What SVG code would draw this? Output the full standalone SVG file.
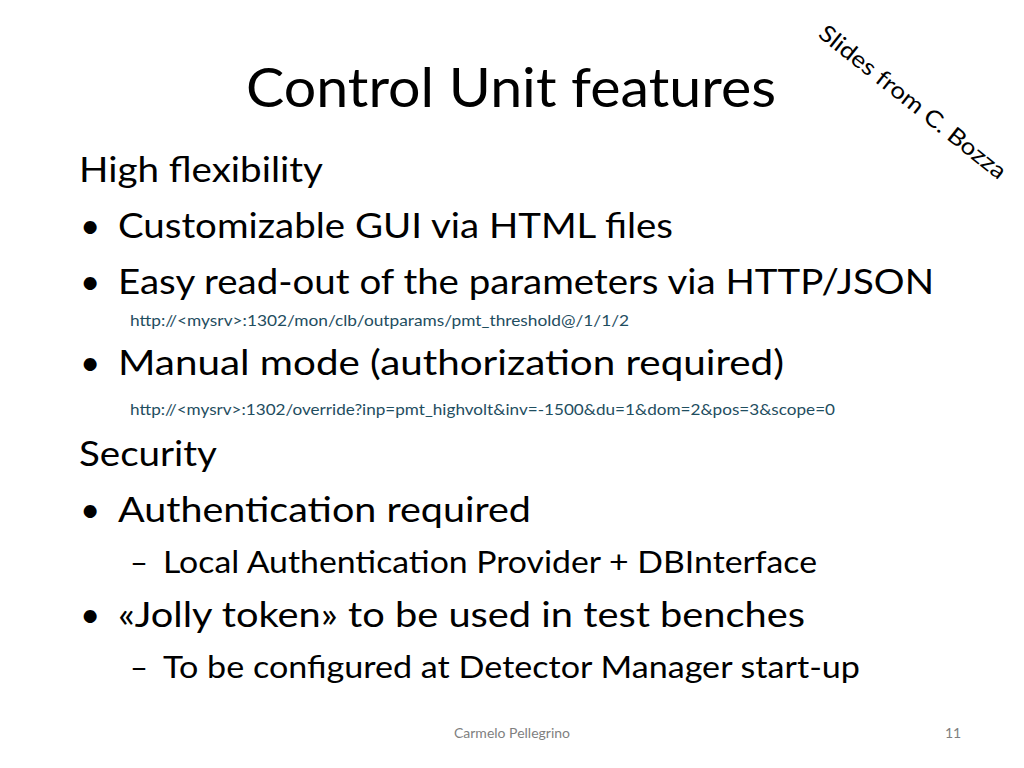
<svg xmlns="http://www.w3.org/2000/svg" width="1024" height="768" viewBox="0 0 1024 768">
<style>
text{font-family:Lato,"Liberation Sans",sans-serif;fill:#000}
.b{font-size:35px}
.s{font-size:31px}
.u{font-size:15px;fill:#1f4e5f}
.f{font-size:14px;fill:#7f7f7f}
</style>
<rect width="1024" height="768" fill="#fff"/>
<g id="title"><text x="246" y="107" font-size="54" textLength="530" lengthAdjust="spacingAndGlyphs">Control Unit features</text></g>
<g id="stamp"><text transform="translate(817,36) rotate(38.5)" font-size="23" textLength="232" lengthAdjust="spacingAndGlyphs">Slides from C. Bozza</text></g>
<g id="body">
<text class="b" x="79" y="182" textLength="244" lengthAdjust="spacingAndGlyphs">High flexibility</text>
<text class="b" x="80" y="238">•</text>
<text class="b" x="118" y="238" textLength="555" lengthAdjust="spacingAndGlyphs">Customizable GUI via HTML files</text>
<text class="b" x="80" y="294">•</text>
<text class="b" x="118" y="294" textLength="816" lengthAdjust="spacingAndGlyphs">Easy read-out of the parameters via HTTP/JSON</text>
<text class="u" x="130" y="326" textLength="499" lengthAdjust="spacingAndGlyphs">http://&lt;mysrv&gt;:1302/mon/clb/outparams/pmt_threshold@/1/1/2</text>
<text class="b" x="80" y="375">•</text>
<text class="b" x="118" y="375" textLength="666" lengthAdjust="spacingAndGlyphs">Manual mode (authorization required)</text>
<text class="u" x="130" y="415" textLength="705" lengthAdjust="spacingAndGlyphs">http://&lt;mysrv&gt;:1302/override?inp=pmt_highvolt&amp;inv=-1500&amp;du=1&amp;dom=2&amp;pos=3&amp;scope=0</text>
<text class="b" x="79" y="466" textLength="138" lengthAdjust="spacingAndGlyphs">Security</text>
<text class="b" x="80" y="522">•</text>
<text class="b" x="118" y="522" textLength="413" lengthAdjust="spacingAndGlyphs">Authentication required</text>
<text class="s" x="130" y="573">–</text>
<text class="s" x="163" y="573" textLength="654" lengthAdjust="spacingAndGlyphs">Local Authentication Provider + DBInterface</text>
<text class="b" x="80" y="627">•</text>
<text class="b" x="118" y="627" textLength="687" lengthAdjust="spacingAndGlyphs">«Jolly token» to be used in test benches</text>
<text class="s" x="130" y="678">–</text>
<text class="s" x="163" y="678" textLength="697" lengthAdjust="spacingAndGlyphs">To be configured at Detector Manager start-up</text>
</g>
<g id="footer">
<text class="f" x="512" y="738" text-anchor="middle">Carmelo Pellegrino</text>
<text class="f" x="953" y="738" text-anchor="middle">11</text>
</g>
</svg>
